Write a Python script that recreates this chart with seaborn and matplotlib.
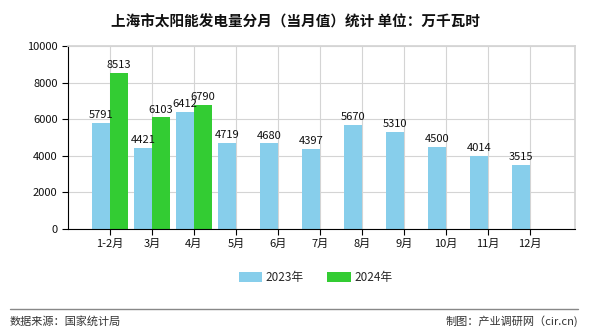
import matplotlib
matplotlib.use("Agg")
import matplotlib.pyplot as plt
import seaborn as sns
import pandas as pd
import numpy as np

months = ["1-2月", "3月", "4月", "5月", "6月", "7月", "8月", "9月", "10月", "11月", "12月"]
v2023 = [5791, 4421, 6412, 4719, 4680, 4397, 5670, 5310, 4500, 4014, 3515]
v2024 = [8513, 6103, 6790]
series = ["2023年", "2024年"]
colors = ["#87CEEB", "#33CC33"]

rows = []
for m, v in zip(months, v2023):
    rows.append((m, series[0], v))
for m, v in zip(months, v2024):
    rows.append((m, series[1], v))
df = pd.DataFrame(rows, columns=["月份", "年份", "值"])

sns.set_theme(style="white")
plt.rcParams["font.family"] = ["Noto Sans CJK SC", "DejaVu Sans"]

fig = plt.figure(figsize=(5.9, 3.3), dpi=100)
ax = fig.add_axes([0.1153, 0.306, 0.8593, 0.5546])

sns.barplot(data=df, x="月份", y="值", hue="年份", order=months, hue_order=series,
            palette=colors, width=0.84, gap=0, saturation=1, ax=ax, legend=True,
            errorbar=None, linewidth=0, edgecolor="none")

for cont in ax.containers:
    ax.bar_label(cont, fmt="%d", fontsize=8, padding=2, color="#111111")

ax.set_xlim(-1, 11.08)
ax.set_ylim(0, 10000)
ax.set_yticks([0, 2000, 4000, 6000, 8000, 10000])
ax.set_xlabel("")
ax.set_ylabel("")
ax.grid(True, color="#d4d4d4", linewidth=0.8)
ax.set_axisbelow(True)
for s in ["top", "right"]:
    ax.spines[s].set_color("#d4d4d4")
for s in ["left", "bottom"]:
    ax.spines[s].set_color("#000000")
    ax.spines[s].set_linewidth(0.8)
ax.tick_params(axis="both", which="both", direction="out", length=4, width=0.8,
               color="black", labelsize=8, labelcolor="#111111", bottom=True, left=True)
ax.tick_params(axis="x", pad=3)

leg = ax.legend(loc="center", bbox_to_anchor=(0.285, 0.135, 0.5, 0.05),
                bbox_transform=fig.transFigure, ncol=2, frameon=False,
                fontsize=8.5, handlelength=2.0, handleheight=0.9, columnspacing=2.0,
                handletextpad=0.3)

fig.text(0.5, 0.935, "上海市太阳能发电量分月（当月值）统计 单位：万千瓦时",
         ha="center", va="center", fontsize=10.5, fontweight="bold", color="#111111")
fig.add_artist(plt.Line2D([0.017, 0.98], [0.064, 0.064], color="#888888", linewidth=1,
                          transform=fig.transFigure))
fig.text(0.017, 0.027, "数据来源：国家统计局", ha="left", va="center", fontsize=8, color="#333333")
fig.text(0.98, 0.027, "制图：产业调研网（cir.cn)", ha="right", va="center", fontsize=8, color="#333333")

fig.savefig("out.png", dpi=100)
